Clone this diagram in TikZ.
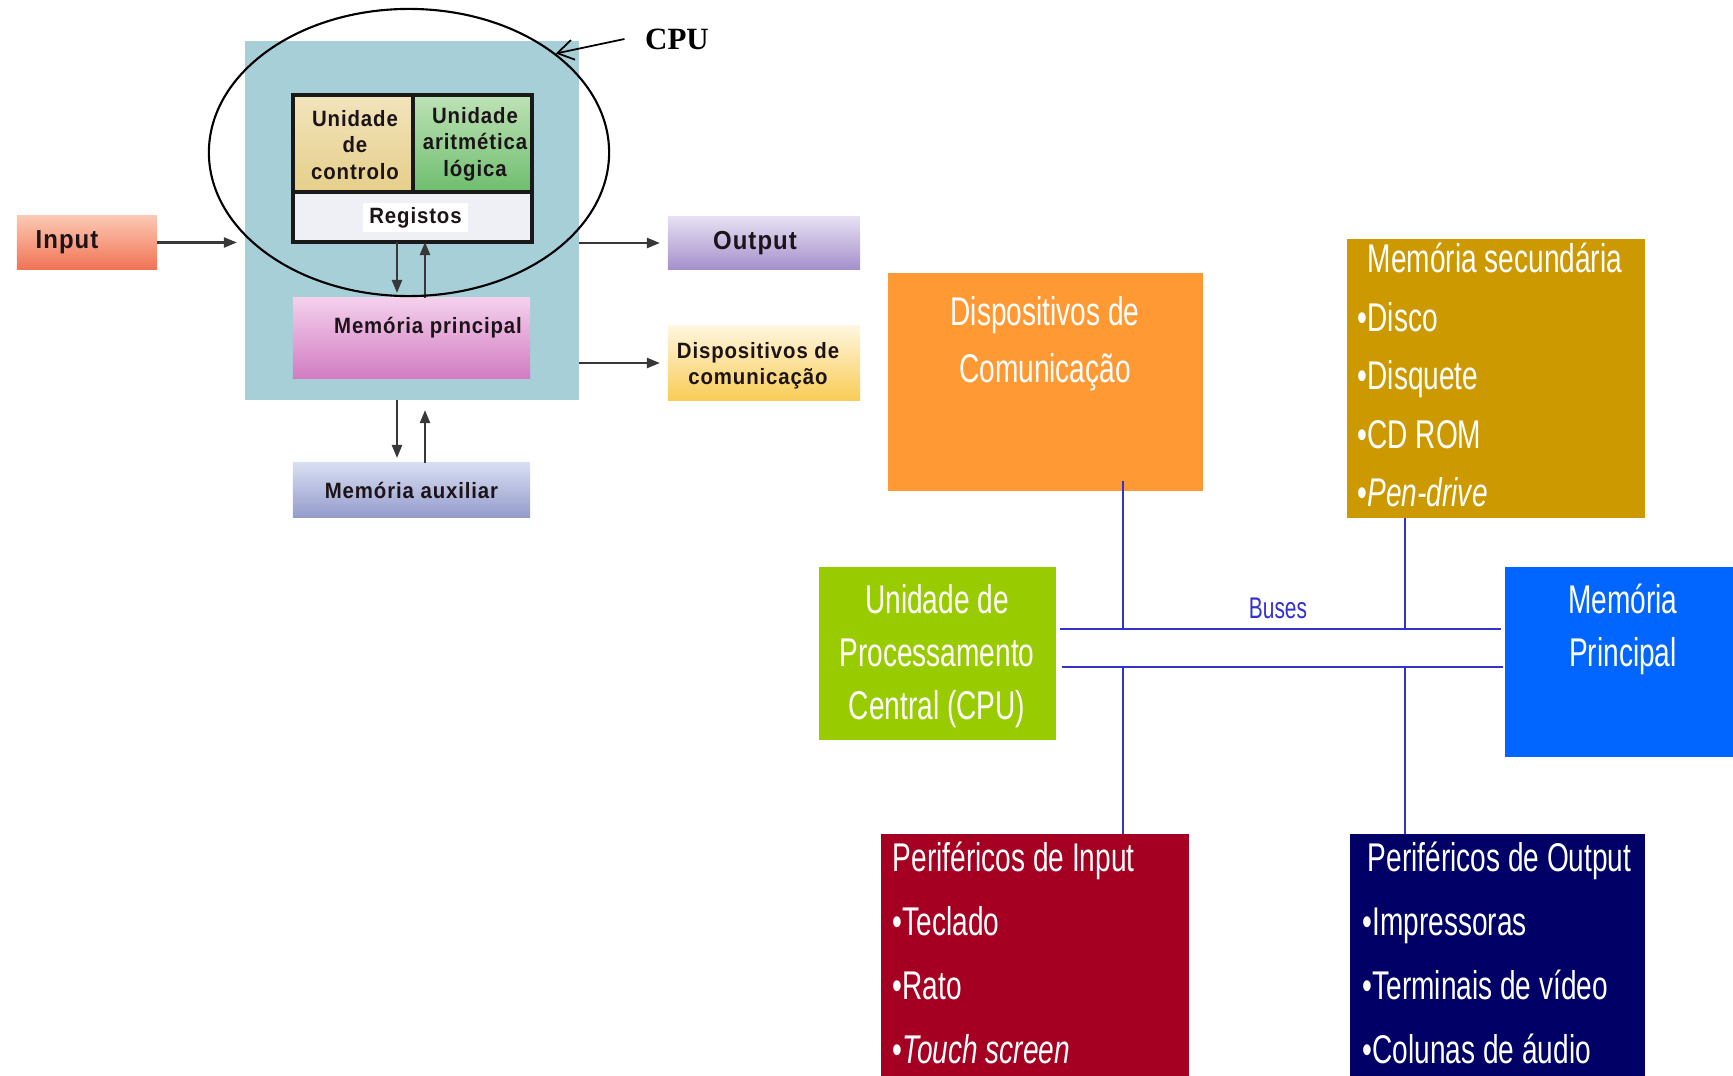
\documentclass[tikz,border=0pt]{standalone}
\usepackage{fontspec}
\usepackage{xcolor}
\usepackage{tikz}
\usetikzlibrary{shapes.geometric, arrows.meta, positioning}

\newfontfamily\boxfont[FakeStretch=0.92, LetterSpace=4]{Liberation Sans}
\newfontfamily\narrowfont[FakeStretch=0.70]{Liberation Sans}
\newfontfamily\labelfont{Liberation Serif}

\definecolor{cpuTeal}{RGB}{166,207,216}
\definecolor{ucTop}{HTML}{F2E4BC}
\definecolor{ucBot}{HTML}{E6CF8A}
\definecolor{ulaTop}{HTML}{BEE2B6}
\definecolor{ulaBot}{HTML}{6EBE6E}
\definecolor{regGray}{HTML}{EEF0F6}
\definecolor{mpTop}{HTML}{F4D0EC}
\definecolor{mpBot}{HTML}{D27CC2}
\definecolor{maTop}{HTML}{D8DEF2}
\definecolor{maBot}{HTML}{949CCC}
\definecolor{inTop}{HTML}{FCC8B2}
\definecolor{inBot}{HTML}{F07456}
\definecolor{outTop}{HTML}{E6E0F2}
\definecolor{outBot}{HTML}{A690CC}
\definecolor{dcTop}{HTML}{FFF6DE}
\definecolor{dcBot}{HTML}{F8CC56}
\definecolor{arrowgray}{HTML}{383838}
\definecolor{darktext}{HTML}{1C1418}
\definecolor{slideOrange}{HTML}{FF9933}
\definecolor{slideGold}{HTML}{CC9900}
\definecolor{slideGreen}{HTML}{99CC00}
\definecolor{slideBlue}{HTML}{0066FF}
\definecolor{slideRed}{HTML}{A50021}
\definecolor{slideNavy}{HTML}{000066}
\definecolor{busblue}{HTML}{3333CC}

\begin{document}
\begin{tikzpicture}[x=0.01cm, y=-0.01cm,
    box/.style={rectangle, inner sep=0pt, outer sep=0pt},
    txt/.style={inner sep=0pt, text=darktext, align=center,
        font=\boxfont\bfseries\fontsize{6.3}{7.5}\selectfont},
    bigtxt/.style={txt, font=\boxfont\bfseries\fontsize{7.4}{8.8}\selectfont},
    cell/.style={box, draw=black!90, line width=0.9pt},
    flow/.style={-{Triangle[length=1.3mm, width=1.0mm]}, line width=0.65pt, draw=arrowgray},
    slide/.style={inner sep=0pt, text=white, font=\narrowfont\fontsize{11.4}{#1}\selectfont},
    bus/.style={line width=0.6pt, draw=busblue}
]
    \useasboundingbox (0,0) rectangle (1733,1076);

    % CPU block
    \node[box, fill=cpuTeal, minimum width=3.34cm, minimum height=3.59cm] (cpubox) at (412,220.5) {};

    % Control unit, ALU and registers
    \node[cell, top color=ucTop, bottom color=ucBot, minimum width=1.20cm, minimum height=0.97cm] (uc) at (353,143.5) {};
    \node[cell, top color=ulaTop, bottom color=ulaBot, minimum width=1.19cm, minimum height=0.97cm] (ula) at (472.5,143.5) {};
    \node[cell, fill=regGray, minimum width=2.39cm, minimum height=0.50cm] (reg) at (412.5,217) {};
    \node[txt] (uctxt) at (355,145) {Unidade\\de\\controlo};
    \node[txt] (ulatxt) at (475,144) {Unidade\\aritmética\\lógica};
    \node[txt, fill=white, minimum width=1.05cm, minimum height=0.29cm] (regtxt) at (415.5,217.5) {Registos};

    % Memories
    \node[box, top color=mpTop, bottom color=mpBot, minimum width=2.37cm, minimum height=0.80cm] (mp) at (411.5,338) {};
    \node[txt] (mptxt) at (428,328) {Memória principal};
    \node[box, txt, top color=maTop, bottom color=maBot, minimum width=2.37cm, minimum height=0.54cm] (maux) at (411.5,490) {Memória auxiliar};

    % Input, output, communication
    \node[box, top color=inTop, bottom color=inBot, minimum width=1.40cm, minimum height=0.53cm] (input) at (87,242.5) {};
    \node[bigtxt] (inputtxt) at (67,242) {Input};
    \node[box, top color=outTop, bottom color=outBot, minimum width=1.92cm, minimum height=0.52cm] (output) at (764,243) {};
    \node[bigtxt] (outputtxt) at (755,243) {Output};
    \node[box, top color=dcTop, bottom color=dcBot, minimum width=1.92cm, minimum height=0.74cm] (dcom) at (764,363) {};
    \node[txt] (dcomtxt) at (758,366) {Dispositivos de\\comunicação};

    % Arrows of the left diagram
    \draw[flow, shorten >=0.08cm] (input.east) -- (input.east -| cpubox.west);
    \draw[flow, shorten >=0.08cm] (cpubox.east |- output.west) -- (output.west);
    \draw[flow, shorten >=0.08cm] (cpubox.east |- dcom.west) -- (dcom.west);
    \draw[flow, shorten >=0.05cm] ([xshift=-0.155cm]reg.south) -- ([xshift=-0.155cm]reg.south |- mp.north);
    \draw[flow] ([xshift=0.125cm]reg.south |- mp.north) -- ([xshift=0.125cm]reg.south);
    \draw[flow, shorten >=0.05cm] ([xshift=-0.155cm]reg.south |- cpubox.south) -- ([xshift=-0.155cm]reg.south |- maux.north);
    \draw[flow, shorten >=0.1cm] ([xshift=0.125cm]reg.south |- maux.north) -- ([xshift=0.125cm]reg.south |- cpubox.south);

    % Ring round the CPU
    \node[ellipse, draw=black, line width=0.6pt, inner sep=0pt, minimum width=4.00cm, minimum height=2.87cm] (cpuring) at (409,152.5) {};
    \node[font=\labelfont\bfseries\fontsize{8.8}{10}\selectfont, inner xsep=0.2cm, inner ysep=0pt] (cpulbl) at (677,39) {CPU};
    \draw[-{Straight Barb[length=1.6mm, width=2.0mm]}, line width=0.5pt] (cpulbl.west) -- (cpuring.34);

    % Boxes of the right diagram
    \node[box, fill=slideOrange, minimum width=3.15cm, minimum height=2.18cm] (dcomR) at (1045.5,382) {};
    \node[slide=16.2, align=center] (dcomRtxt) at (1045,343.5) {Dispositivos de\\Comunicação};

    \node[box, fill=slideGold, minimum width=2.98cm, minimum height=2.79cm] (msec) at (1496,378.5) {};
    \node[slide=16.6] (msectitle) at (1495,258) {Memória secundária};
    \node[slide=16.6, anchor=west, align=left] (mseclist) at (1357,404.5) {•Disco\\•Disquete\\•CD ROM\\•\textit{Pen-drive}};

    \node[box, fill=slideGreen, minimum width=2.37cm, minimum height=1.73cm] (ucp) at (937.5,653.5) {};
    \node[slide=15.1, align=center] (ucptxt) at (937,656) {Unidade de\\Processamento\\Central (CPU)};

    \node[box, fill=slideBlue, minimum width=2.28cm, minimum height=1.90cm] (mprinc) at (1619,662) {};
    \node[slide=15.1, align=center] (mprinctxt) at (1623,629.5) {Memória\\Principal};

    \node[box, fill=slideRed, minimum width=3.08cm, minimum height=2.42cm] (pin) at (1035,955) {};
    \node[slide=18.2, anchor=west, align=left] (pintxt) at (892,953) {Periféricos de Input\\•Teclado\\•Rato\\•\textit{Touch screen}};

    \node[box, fill=slideNavy, minimum width=2.95cm, minimum height=2.42cm] (pout) at (1497.5,955) {};
    \node[slide=18.2, anchor=west, align=left] (pouttxt) at (1362,953) {\hspace{0.05cm}Periféricos de Output\\•Impressoras\\•Terminais de vídeo\\•Colunas de áudio};

    % Buses
    \coordinate (bus1w) at (1060,629);
    \coordinate (bus1e) at (1501,629);
    \coordinate (bus2w) at (1062,667);
    \coordinate (bus2e) at (1503,667);
    \coordinate (tapA1) at (1123,629);
    \coordinate (tapA2) at (1123,667);
    \coordinate (tapB1) at (1405,629);
    \coordinate (tapB2) at (1405,667);
    \draw[bus] (bus1w) -- (bus1e);
    \draw[bus] (bus2w) -- (bus2e);
    \draw[bus] ([yshift=0.1cm]dcomR.south -| tapA1) -- (tapA1);
    \draw[bus] (tapA2) -- (pin.north -| tapA2);
    \draw[bus] (msec.south -| tapB1) -- (tapB1);
    \draw[bus] (tapB2) -- (pout.north -| tapB2);
    \node[font=\narrowfont\fontsize{8.5}{10}\selectfont, text=busblue, inner sep=0pt] (buslbl) at (1278,608) {Buses};

\end{tikzpicture}
\end{document}
